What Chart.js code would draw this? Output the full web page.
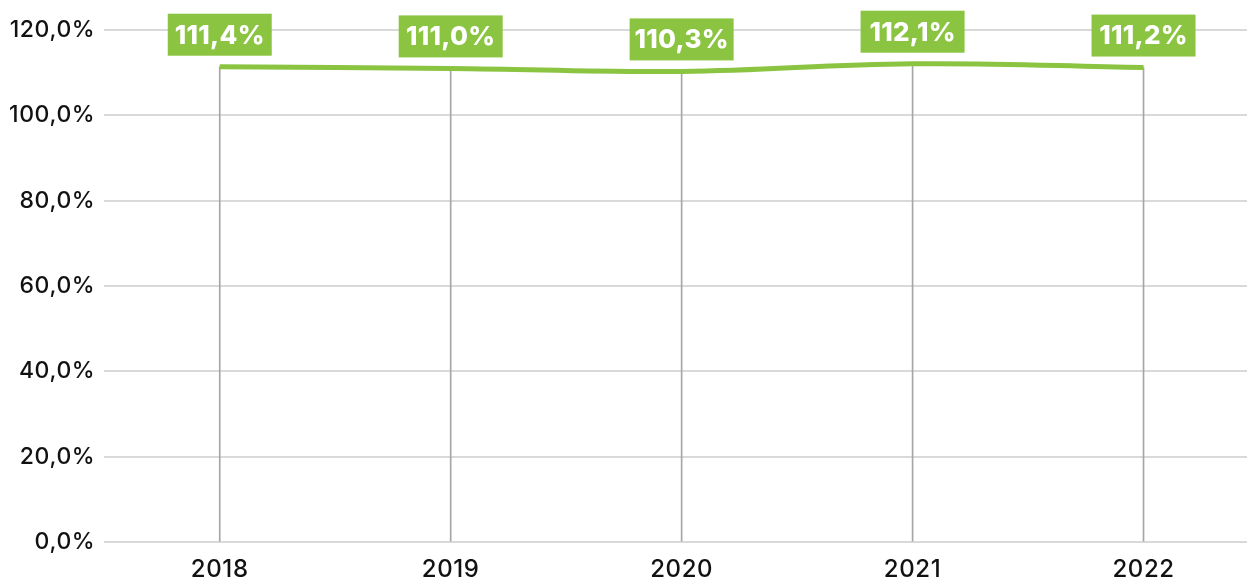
<!DOCTYPE html>
<html>
<head>
<meta charset="utf-8">
<script src="https://cdn.jsdelivr.net/npm/chart.js@4"></script>
<style>
  html, body { margin: 0; padding: 0; background: #fff; overflow: hidden; }
  #frame { position: relative; width: 1247px; height: 586px; overflow: hidden; }
  canvas { display: block; position: absolute; left: 0; top: 0; }
</style>
</head>
<body>
<div id="frame"><canvas id="chartRatio" width="1259" height="597"></canvas></div>
<script>
const years = ['2018', '2019', '2020', '2021', '2022'];
const ratio = [111.4, 111.0, 110.3, 112.1, 111.2];
const yTicks = [0, 20, 40, 60, 80, 100, 120];

const green = '#8bc441';
const fmt = v => v.toFixed(1).replace('.', ',') + '%';

// wider letter spacing, the original font runs wide
const spacing = {
  id: 'spacing',
  beforeInit(chart) { chart.ctx.letterSpacing = '0.6px'; },
  beforeUpdate(chart) { chart.ctx.letterSpacing = '0.6px'; },
  beforeDraw(chart) { chart.ctx.letterSpacing = '0.6px'; }
};

// green boxes with the value above each point
const valueBoxes = {
  id: 'valueBoxes',
  afterDatasetsDraw(chart) {
    const ctx = chart.ctx;
    const meta = chart.getDatasetMeta(0);
    ctx.save();
    ctx.font = '800 26px Inter';
    ctx.letterSpacing = '0.3px';
    ctx.textAlign = 'center';
    ctx.textBaseline = 'middle';
    meta.data.forEach((pt, i) => {
      const txt = fmt(ratio[i]);
      const w = 104;
      const h = 42;
      const bottom = pt.y - 11;
      ctx.fillStyle = green;
      ctx.fillRect(pt.x - w / 2, bottom - h, w, h);
      ctx.fillStyle = '#fff';
      ctx.fillText(txt, pt.x, bottom - h / 2 + 1);
    });
    ctx.restore();
  }
};

const ctx = document.getElementById('chartRatio');
new Chart(ctx, {
  data: {
    labels: years,
    datasets: [{
      type: 'line',
      data: ratio,
      borderColor: green,
      borderWidth: 5,
      pointRadius: 0,
      tension: 0.4,
      order: 0
    }, {
      type: 'bar',
      data: ratio,
      backgroundColor: '#a6a6a6',
      barThickness: 1,
      order: 1
    }]
  },
  options: {
    responsive: false,
    animation: false,
    layout: { padding: { top: 30, left: 0 } },
    plugins: {
      legend: { display: false },
      tooltip: { enabled: false }
    },
    scales: {
      x: {
        offset: true,
        grid: { display: false, drawTicks: false },
        border: { display: false },
        ticks: { color: '#111', font: { family: 'Inter', size: 24, weight: 500 }, padding: 13 }
      },
      y: {
        min: 0,
        max: 120,
        afterBuildTicks: axis => { axis.ticks = yTicks.map(v => ({ value: v })); },
        grid: { color: '#d9d9d9', lineWidth: 2, drawTicks: false },
        border: { display: false },
        ticks: {
          color: '#111',
          font: { family: 'Inter', size: 23, weight: 500 },
          padding: 9,
          callback: v => fmt(v)
        }
      }
    }
  },
  plugins: [spacing, valueBoxes]
});
</script>
</body>
</html>
